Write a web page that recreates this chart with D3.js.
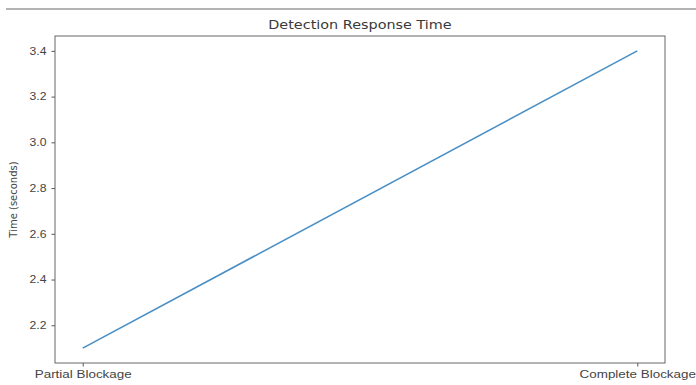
<!DOCTYPE html>
<html>
<head>
<meta charset="utf-8">
<script src="https://cdn.jsdelivr.net/npm/d3@7"></script>
<style>
  html, body { margin: 0; padding: 0; background: #fff; }
  svg { display: block; font-family: "DejaVu Sans", sans-serif; }
</style>
</head>
<body>
<svg id="chart" width="696" height="385"></svg>
<script>
// Detection response time per blockage type
const categories = ["Partial Blockage", "Complete Blockage"];
const responseTimes = [2.1, 3.4];
const yTicks = [2.2, 2.4, 2.6, 2.8, 3.0, 3.2, 3.4];

const W = 696, H = 385;
const margin = { left: 55, right: 31, top: 36, bottom: 22 };
const plotW = W - margin.left - margin.right;
const plotH = H - margin.top - margin.bottom;

const svg = d3.select("#chart");

// thin rule across the top of the figure
svg.append("line")
  .attr("x1", 6).attr("x2", W).attr("y1", 9).attr("y2", 9)
  .attr("stroke", "#9a9a9a").attr("stroke-width", 1.5);

const g = svg.append("g").attr("transform", `translate(${margin.left},${margin.top})`);

// category positions with 5% padding on each side
const x = d3.scaleLinear()
  .domain([-0.05, 1.05])
  .range([0, plotW]);

const yMin = d3.min(responseTimes), yMax = d3.max(responseTimes);
const pad = (yMax - yMin) * 0.05;
const y = d3.scaleLinear()
  .domain([yMin - pad, yMax + pad])
  .range([plotH, 0]);

// data line
const line = d3.line()
  .x((d, i) => x(i))
  .y(d => y(d));

g.append("path")
  .datum(responseTimes)
  .attr("fill", "none")
  .attr("stroke", "#4a8fc4")
  .attr("stroke-width", 1.6)
  .attr("d", line);

// axes
const yAxis = d3.axisLeft(y)
  .tickValues(yTicks)
  .tickFormat(d3.format(".1f"))
  .tickSize(3.5)
  .tickPadding(3.5);

const xAxis = d3.axisBottom(x)
  .tickValues(categories.map((c, i) => i))
  .tickFormat(i => categories[i])
  .tickSize(3.5)
  .tickPadding(4);

const ya = g.append("g").call(yAxis);
const xa = g.append("g").attr("transform", `translate(0,${plotH})`).call(xAxis);

[ya, xa].forEach(a => {
  a.select(".domain").remove();
  a.selectAll("line").attr("stroke", "#555");
  a.selectAll("text").attr("fill", "#444");
});

// wide tick lettering
ya.selectAll("text")
  .style("font-size", "10px")
  .attr("transform", "scale(1.22,1)");

xa.selectAll("text")
  .style("font-size", "10.5px")
  .attr("transform", "scale(1.28,1)");

// frame
g.append("rect")
  .attr("width", plotW).attr("height", plotH)
  .attr("fill", "none")
  .attr("stroke", "#666").attr("stroke-width", 1);

// title
svg.append("text")
  .attr("transform", `translate(${margin.left + plotW / 2},29) scale(1.2,1)`)
  .attr("text-anchor", "middle")
  .attr("fill", "#3a3a3a")
  .style("font-size", "12px")
  .text("Detection Response Time");

// y label
svg.append("text")
  .attr("transform", `translate(17,${margin.top + plotH / 2}) rotate(-90)`)
  .attr("text-anchor", "middle")
  .attr("fill", "#444")
  .style("font-size", "10px")
  .text("Time (seconds)");
</script>
</body>
</html>
